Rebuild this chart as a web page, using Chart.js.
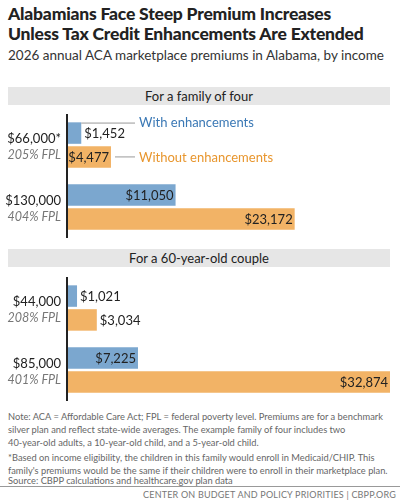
<!DOCTYPE html>
<html><head><meta charset="utf-8">
<script src="https://cdn.jsdelivr.net/npm/chart.js@4"></script>
<style>
body{margin:0;width:400px;height:501px;background:#fff;font-family:Lato,"Open Sans",sans-serif;position:relative;overflow:hidden}
.t{position:absolute;left:8px;top:4px;font-size:17.5px;font-weight:900;line-height:20px;color:#222;letter-spacing:-0.2px}
.s{position:absolute;left:8px;top:47px;font-size:13.5px;color:#333}
.band{position:absolute;left:8px;width:382px;height:18px;background:#e6e6e6;font-size:13px;color:#222;text-align:center;line-height:18px}
.c{position:absolute;left:0;width:400px;height:124px}
.n{position:absolute;left:8px;font-size:9.3px;color:#666;line-height:13px;white-space:nowrap}
.f{position:absolute;left:0;top:489px;width:396px;text-align:right;font-size:9px;color:#777;letter-spacing:0.2px}
.hr{position:absolute;left:0;width:400px;top:486px;border-top:1px solid #999}
</style></head><body>
<div class="t">Alabamians Face Steep Premium Increases<br>Unless Tax Credit Enhancements Are Extended</div>
<div class="s">2026 annual ACA marketplace premiums in Alabama, by income</div>
<div class="band" style="top:87px">For a family of four</div>
<div class="band" style="top:249px">For a 60-year-old couple</div>
<div class="c" style="top:114px"><canvas id="c1" width="400" height="124"></canvas></div>
<div class="c" style="top:277px"><canvas id="c2" width="400" height="124"></canvas></div>
<div class="n" style="top:410px">Note: ACA = Affordable Care Act; FPL = federal poverty level. Premiums are for a benchmark<br>silver plan and reflect state-wide averages. The example family of four includes two<br>40-year-old adults, a 10-year-old child, and a 5-year-old child.</div>
<div class="n" style="top:451px">*Based on income eligibility, the children in this family would enroll in Medicaid/CHIP. This<br>family's premiums would be the same if their children were to enroll in their marketplace plan.</div>
<div class="n" style="top:474px">Source: CBPP calculations and healthcare.gov plan data</div>
<div class="hr"></div>
<div class="f">CENTER ON BUDGET AND POLICY PRIORITIES | CBPP.ORG</div>
<script>
const familyIncome=["$66,000*","$130,000"];
const familyFPL=["205% FPL","404% FPL"];
const familyWith=[1452,11050];
const familyWithout=[4477,23172];
const coupleIncome=["$44,000","$85,000"];
const coupleFPL=["208% FPL","401% FPL"];
const coupleWith=[1021,7225];
const coupleWithout=[3034,32874];
const seriesNames=["With enhancements","Without enhancements"];
const BLUE="#7ba7cf",ORANGE="#f2b366",BLUET="#3a78b5",ORANGET="#e8962e";
const fmt=v=>"$"+v.toLocaleString("en-US");
function make(id,inc,fpl,w,wo,legend){
 const plug={id:"lab",afterDatasetsDraw(ch){
  const g=ch.ctx,a=ch.chartArea,ys=ch.scales.y;
  g.save();
  g.strokeStyle="#222";g.lineWidth=2;g.beginPath();g.moveTo(a.left,0);g.lineTo(a.left,124);g.stroke();
  inc.forEach((l,i)=>{const y=ys.getPixelForValue(i);
   g.textAlign="right";g.fillStyle="#222";g.font="13px Lato";g.fillText(l,a.left-6,y-2);
   g.fillStyle="#777";g.font="italic 12.5px Lato";g.fillText(fpl[i],a.left-6,y+14);});
  ch.data.datasets.forEach((ds,di)=>{ch.getDatasetMeta(di).data.forEach((b,i)=>{
   const t=fmt(ds.data[i]);g.font="13px Lato";const tw=g.measureText(t).width;g.fillStyle="#222";
   g.textBaseline="middle";
   let end;
   if(b.x-a.left>tw+3){g.textAlign="right";g.fillText(t,b.x-2,b.y+1);end=b.x;}
   else{g.textAlign="left";g.fillText(t,b.x+3,b.y+1);end=b.x+tw+6;}
   if(legend&&i===0){
     g.strokeStyle="#999";g.lineWidth=1;g.beginPath();
     if(di===0){g.moveTo(b.x,b.y-10);g.lineTo(135,b.y-10);}else{g.moveTo(end+4,b.y);g.lineTo(135,b.y);}
     g.stroke();g.textAlign="left";g.font="13px Lato";g.fillStyle=di===0?BLUET:ORANGET;g.fillText(seriesNames[di],139,di===0?b.y-10:b.y+1);}
   });});
  g.restore();}};
 new Chart(document.getElementById(id),{type:"bar",
  data:{labels:inc,datasets:[{label:seriesNames[0],data:w,backgroundColor:BLUE},{label:seriesNames[1],data:wo,backgroundColor:ORANGE}]},
  options:{indexAxis:"y",responsive:false,animation:false,events:[],
   layout:{padding:{left:67,right:10,top:0,bottom:0}},
   categoryPercentage:0.77,barPercentage:0.9,
   plugins:{legend:{display:false},tooltip:{enabled:false}},
   scales:{x:{display:false,min:0,max:32874},y:{display:false}}},
  plugins:[plug]});
}
make("c1",familyIncome,familyFPL,familyWith,familyWithout,true);
make("c2",coupleIncome,coupleFPL,coupleWith,coupleWithout,false);
</script></body></html>
